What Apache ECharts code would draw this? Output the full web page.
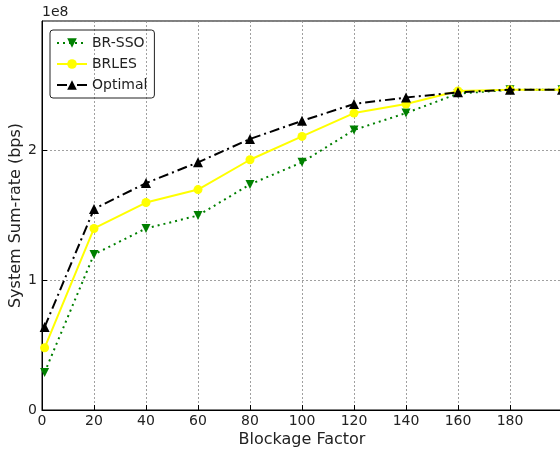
<!DOCTYPE html>
<html>
<head>
<meta charset="utf-8">
<script src="https://cdn.jsdelivr.net/npm/echarts@6/dist/echarts.min.js"></script>
<style>
html, body { margin: 0; padding: 0; background: #fff; }
#main { width: 560px; height: 450px; }
</style>
</head>
<body>
<div id="main"></div>
<script>
// blockage factor values (x)
var blockage = [1, 20, 40, 60, 80, 100, 120, 140, 160, 180, 200];
// sum rates in units of 1e8 bps
var brSso = [0.29, 1.20, 1.40, 1.50, 1.74, 1.91, 2.16, 2.29, 2.44, 2.47, 2.47];
var brles = [0.48, 1.40, 1.60, 1.70, 1.93, 2.11, 2.29, 2.36, 2.46, 2.47, 2.47];
var optimal = [0.64, 1.55, 1.75, 1.91, 2.09, 2.23, 2.36, 2.41, 2.45, 2.47, 2.47];

var pairs = function(ys) {
    var res = [];
    for (var i = 0; i < blockage.length; i++) {
        res.push([blockage[i], ys[i]]);
    }
    return res;
};

var font = 'DejaVu Sans';
var chart = echarts.init(document.getElementById('main'));

var option = {
    backgroundColor: '#fff',
    animation: false,
    textStyle: { fontFamily: font },
    grid: {
        left: 42,
        right: -2,
        top: 21,
        bottom: 40,
        outerBoundsMode: 'none',
        containLabel: false,
        show: true,
        borderColor: '#000',
        borderWidth: 1
    },
    graphic: [{
        type: 'text',
        left: 42,
        top: 5,
        style: { text: '1e8', font: '14px DejaVu Sans', fill: '#222' }
    }],
    legend: {
        orient: 'vertical',
        left: 50,
        top: 30,
        padding: [6, 7, 6, 6],
        itemGap: 7,
        itemWidth: 30,
        itemHeight: 12,
        borderColor: '#222',
        borderWidth: 1,
        borderRadius: 3,
        textStyle: { fontFamily: font, fontSize: 14, color: '#222' },
        data: ['BR-SSO', 'BRLES', 'Optimal']
    },
    xAxis: {
        type: 'value',
        min: 0,
        max: 200,
        interval: 20,
        name: 'Blockage Factor',
        nameLocation: 'middle',
        nameGap: 22,
        nameMoveOverlap: false,
        nameTextStyle: { fontFamily: font, fontSize: 16, color: '#222' },
        axisLine: { lineStyle: { color: '#000' } },
        axisTick: { inside: true, length: 5, lineStyle: { color: '#000' } },
        axisLabel: { showMaxLabel: false, fontFamily: font, fontSize: 14, color: '#222', margin: 4 },
        splitLine: { lineStyle: { color: '#888', type: [2, 2], width: 0.8 } }
    },
    yAxis: {
        type: 'value',
        min: 0,
        max: 3,
        interval: 1,
        name: 'System Sum-rate (bps)',
        nameLocation: 'middle',
        nameGap: 18,
        nameMoveOverlap: false,
        nameTextStyle: { fontFamily: font, fontSize: 16, color: '#222' },
        axisLine: { lineStyle: { color: '#000' } },
        axisTick: { inside: true, length: 5, lineStyle: { color: '#000' } },
        axisLabel: { showMaxLabel: false, fontFamily: font, fontSize: 14, color: '#222', margin: 5 },
        splitLine: { lineStyle: { color: '#888', type: [2, 2], width: 0.8 } }
    },
    series: [{
        name: 'BR-SSO',
        type: 'line',
        data: pairs(brSso),
        symbol: 'triangle',
        symbolRotate: 180,
        symbolSize: 9,
        itemStyle: { color: '#008000' },
        lineStyle: { color: '#008000', width: 2, type: [2, 4] },
        z: 2
    }, {
        name: 'BRLES',
        type: 'line',
        data: pairs(brles),
        symbol: 'circle',
        symbolSize: 9,
        itemStyle: { color: '#ffff00' },
        lineStyle: { color: '#ffff00', width: 2 },
        z: 3
    }, {
        name: 'Optimal',
        type: 'line',
        data: pairs(optimal),
        symbol: 'triangle',
        symbolSize: 10,
        itemStyle: { color: '#000' },
        lineStyle: { color: '#000', width: 2, type: [10, 4, 2, 4] },
        z: 4
    }]
};

chart.setOption(option);
</script>
</body>
</html>
